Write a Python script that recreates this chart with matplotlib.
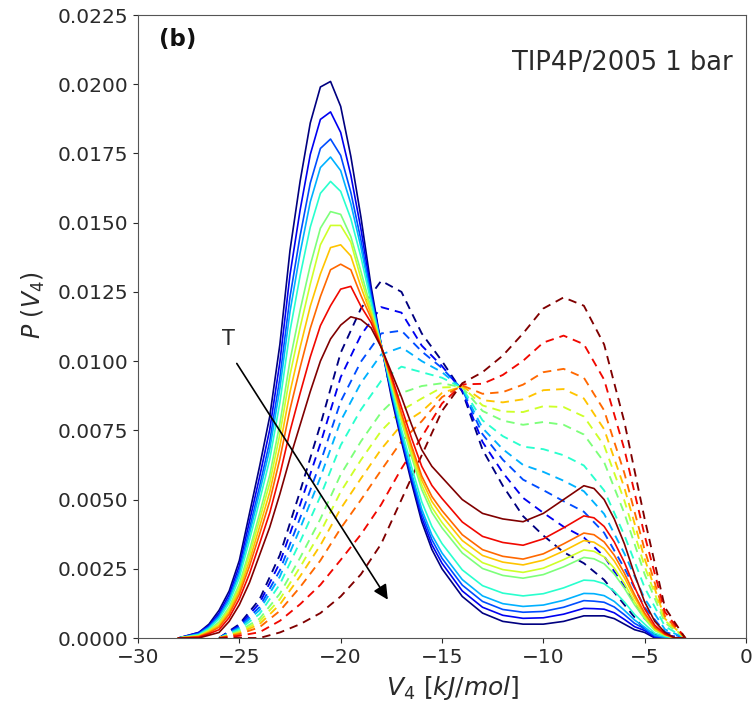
import matplotlib
matplotlib.use("Agg")
import matplotlib.pyplot as plt
import numpy as np

# ---------------- data ----------------
v_solid = [-28, -27.5, -27, -26.5, -26, -25.5, -25, -24.5, -24, -23.5, -23, -22.5, -22, -21.5,
           -21, -20.5, -20, -19.5, -19, -18.5, -18, -17.5, -17, -16.5, -16, -15.5, -15,
           -14, -13, -12, -11, -10, -9, -8, -7.5, -7, -6.5, -6, -5.5, -5, -4.5, -4, -3.5, -3]

solid_0 = [0, .0001, .0002, .0005, .0010, .0017, .0028, .0045, .0062, .0080, .0106, .0140, .0165, .0186,
           .0199, .0201, .0192, .0174, .0152, .0127, .0106, .0087, .0071, .0056, .0042, .0032, .0025,
           .0015, .0009, .0006, .0005, .0005, .0006, .0008, .0008, .0008, .0007, .0005, .0003, .0002, 0, 0, 0, 0]
solid_1 = [0, .0001, .0002, .00045, .0009, .00157, .00261, .00421, .00582, .00753, .00996, .01312, .01546, .01746,
           .01873, .0190, .01826, .01672, .01477, .01252, .01059, .00881, .00719, .00573, .00435, .00337, .0027,
           .0017, .00111, .00082, .00071, .00073, .00086, .00107, .00106, .00104, .00091, .00067, .00041, .00027, .00003, .00001, 0, 0]
solid_2 = [0, .00008, .00016, .00041, .00082, .00145, .00244, .00394, .00548, .0071, .00939, .01232, .01453, .01643,
           .01768, .01802, .01743, .0161, .01437, .01236, .01058, .0089, .00729, .00584, .0045, .00355, .00288,
           .00191, .00132, .00103, .00093, .00096, .00111, .00135, .00133, .00129, .00112, .00084, .00053, .00033, .00007, .00002, 0, 0]
solid_3 = [0, .00007, .00014, .00038, .00076, .00138, .00233, .00376, .00526, .00682, .00901, .01179, .01391, .01575,
           .01699, .01737, .01688, .01569, .01411, .01226, .01057, .00896, .00738, .00596, .00465, .00372, .00307,
           .00211, .00152, .00124, .00114, .00119, .00136, .00161, .0016, .00153, .00132, .001, .00065, .00039, .0001, .00003, 0, 0]
solid_4 = [0, .00006, .00012, .00034, .00069, .00127, .00218, .00353, .00496, .00645, .0085, .01109, .01309, .01484,
           .01606, .01649, .01613, .01515, .01376, .01212, .01056, .00905, .00754, .00618, .00492, .00403, .00341,
           .00246, .00189, .00162, .00152, .0016, .00181, .00209, .00207, .00196, .00169, .0013, .00085, .0005, .00017, .00006, 0, 0]
solid_5 = [0, .00005, .00009, .00029, .00058, .00112, .00195, .00317, .0045, .00588, .00774, .01002, .01184, .01346,
           .0148, .0154, .0153, .0145, .01324, .0119, .01055, .00918, .00782, .00654, .00536, .00454, .00398,
           .00307, .00251, .00226, .00216, .00229, .00257, .00291, .00286, .00268, .00231, .0018, .0012, .00069, .00027, .00009, 0, 0]
solid_6 = [0, .00004, .00008, .00026, .00052, .00104, .00184, .003, .00428, .0056, .00736, .0095, .01122, .01278,
           .0142, .0149, .0149, .0143, .01298, .0118, .01054, .00924, .00791, .00666, .00552, .00472, .00417,
           .00327, .00272, .00247, .00237, .00252, .00283, .00318, .00313, .00293, .00252, .00197, .00131, .00076, .0003, .0001, 0, 0]
solid_7 = [0, .00003, .00006, .00023, .00045, .00095, .00171, .00279, .00402, .00527, .00692, .00888, .0105, .01198,
           .01315, .0141, .0142, .0138, .01268, .01168, .01053, .00931, .00802, .00681, .0057, .00493, .00441,
           .00352, .00298, .00274, .00264, .00281, .00314, .00352, .00346, .00323, .00278, .00218, .00146, .00084, .00035, .00012, 0, 0]
solid_8 = [0, .00002, .00005, .00019, .00039, .00086, .00158, .00259, .00375, .00494, .00647, .00826, .00977, .01118,
           .01233, .0133, .0135, .0133, .01237, .01155, .01052, .00939, .00812, .00694, .00585, .00511, .0046,
           .00373, .00319, .00295, .00285, .00304, .0034, .00379, .00373, .00347, .00299, .00234, .00157, .0009, .00038, .00013, 0, 0]
solid_9 = [0, .00001, .00003, .00015, .0003, .00074, .00141, .00232, .00341, .00452, .0059, .00747, .00884, .01015,
           .01128, .012, .0126, .0127, .01198, .01139, .01051, .00948, .00833, .00721, .0062, .00551, .00504,
           .00419, .00367, .00345, .00335, .00358, .00398, .00441, .00434, .00403, .00347, .00273, .00184, .00105, .00046, .00015, 0, 0]
solid_10 = [0, 0, 0, .0001, .0002, .0006, .0012, .0020, .0030, .0040, .0052, .0065, .0077, .0089,
            .0100, .0108, .0113, .0116, .0115, .0112, .0105, .0096, .0087, .0077, .0068, .0062, .0058,
            .0050, .0045, .0043, .0042, .0045, .0050, .0055, .0054, .0050, .0043, .0034, .0023, .0013, .0006, .0002, 0, 0]

v_dash = [-26, -25, -24, -23, -22, -21, -20, -19, -18, -17, -16, -15, -14, -13, -12, -11, -10, -9,
          -8, -7, -6, -5, -4, -3]

dash_0 = [0, .0005, .0014, .0030, .0053, .0077, .0103, .0119, .0129, .0125, .0110, .0100, .0089, .0068, .0055, .0044, .0037, .0031, .0027, .0021, .0012, .0003, 0, 0]
dash_1 = [0, .00045, .00126, .00272, .00482, .00702, .00942, .01094, .01195, .01175, .01056, .00982, .00893, .00708, .00597, .00506, .00452, .00402, .00363, .00295, .00186, .0007, .00011, 0]
dash_2 = [0, .0004, .00112, .00244, .00434, .00634, .00854, .00998, .011, .0111, .01035, .00975, .00898, .00736, .00644, .00572, .00534, .00494, .00456, .0038, .00252, .0011, .00022, 0]
dash_3 = [0, .00036, .00101, .00222, .00396, .0058, .00784, .00921, .01024, .0105, .0100, .0096, .00900, .00758, .00682, .00625, .006, .00568, .0053, .00448, .00305, .00142, .00031, 0]
dash_4 = [0, .00031, .00087, .00194, .00348, .00512, .00696, .00825, .00929, .0098, .0096, .0094, .00903, .00786, .00729, .00691, .00682, .0066, .00623, .00533, .00371, .00182, .00042, 0]
dash_5 = [0, .00025, .0007, .0016, .0029, .0043, .0059, .0071, .00815, .00885, .0091, .0092, .00905, .0082, .00785, .0077, .0078, .0077, .00735, .00635, .0045, .0023, .00055, 0]
dash_6 = [0, .00021, .0006, .0014, .00256, .00382, .00528, .00643, .00748, .00822, .00865, .00905, .00907, .0084, .00818, .00816, .00837, .00834, .008, .00695, .00496, .00258, .00063, 0]
dash_7 = [0, .00018, .0005, .00121, .00223, .00335, .00467, .00576, .00682, .0077, .00818, .00885, .00909, .00859, .00851, .00862, .00895, .00899, .00865, .00754, .00542, .00286, .0007, 0]
dash_8 = [0, .00014, .00039, .00098, .00184, .0028, .00396, .00499, .00606, .0071, .00783, .0087, .00912, .00882, .00888, .00915, .0096, .00972, .0094, .00822, .00595, .00318, .00079, 0]
dash_9 = [0, .00008, .00021, .00062, .00122, .00192, .00282, .00374, .00482, .00612, .00726, .00847, .00916, .00918, .0095, .01001, .01067, .01092, .01061, .00933, .00681, .0037, .00094, 0]
dash_10 = [0, 0, 0, .0002, .0005, .0009, .0015, .0023, .0034, .0050, .0066, .0082, .0092, .0096, .0102, .0110, .0119, .0123, .0120, .0106, .0078, .0043, .0011, 0]

x_ticks = [-30, -25, -20, -15, -10, -5, 0]
y_ticks = [0.0, 0.0025, 0.005, 0.0075, 0.01, 0.0125, 0.015, 0.0175, 0.02, 0.0225]

# ---------------- plot ----------------
solids = [solid_0, solid_1, solid_2, solid_3, solid_4, solid_5, solid_6, solid_7, solid_8, solid_9, solid_10]
dashes = [dash_0, dash_1, dash_2, dash_3, dash_4, dash_5, dash_6, dash_7, dash_8, dash_9, dash_10]
colors = plt.cm.jet(np.linspace(0, 1, len(solids)))

fig = plt.figure(figsize=(7.54, 7.11), dpi=100)
ax = fig.add_axes([138 / 754, 73 / 711, 608 / 754, 623 / 711])

for c, d in zip(colors, dashes):
    ax.plot(v_dash, d, linestyle=(0, (4.5, 3.2)), color=c, lw=1.35)
for c, s in zip(colors, solids):
    ax.plot(v_solid, s, linestyle='-', color=c, lw=1.2)

ax.set_xlim(-30, 0)
ax.set_ylim(0, 0.0225)
ax.set_xticks(x_ticks)
ax.set_yticks(y_ticks)
ax.set_yticklabels([f"{t:.4f}" for t in y_ticks])
ax.tick_params(labelsize=14.5, colors='#2a2a2a')
for sp in ax.spines.values():
    sp.set_color('#555555')

ax.set_xlabel(r'$V_4\ [kJ/mol]$', fontsize=18, color='#2a2a2a')
ax.set_ylabel(r'$P\ (V_4)$', fontsize=17, color='#2a2a2a')
ax.xaxis.set_label_coords(0.517, -0.058)
ax.yaxis.set_label_coords(-0.15, 0.535)

ax.text(0.034, 0.96, '(b)', transform=ax.transAxes, fontsize=16.5, fontweight='bold',
        ha='left', va='center', color='#111111')
ax.text(0.978, 0.923, 'TIP4P/2005 1 bar', transform=ax.transAxes, fontsize=18.5,
        ha='right', va='center', color='#2a2a2a')

ax.annotate('', xy=(-17.6, 0.0013), xytext=(-25.2, 0.0100),
            arrowprops=dict(arrowstyle='-|>', color='black', lw=1.2, mutation_scale=22))
ax.text(-25.55, 0.0108, 'T', fontsize=15, ha='center', va='center', color='#2a2a2a')

fig.savefig('out.png', dpi=100)
